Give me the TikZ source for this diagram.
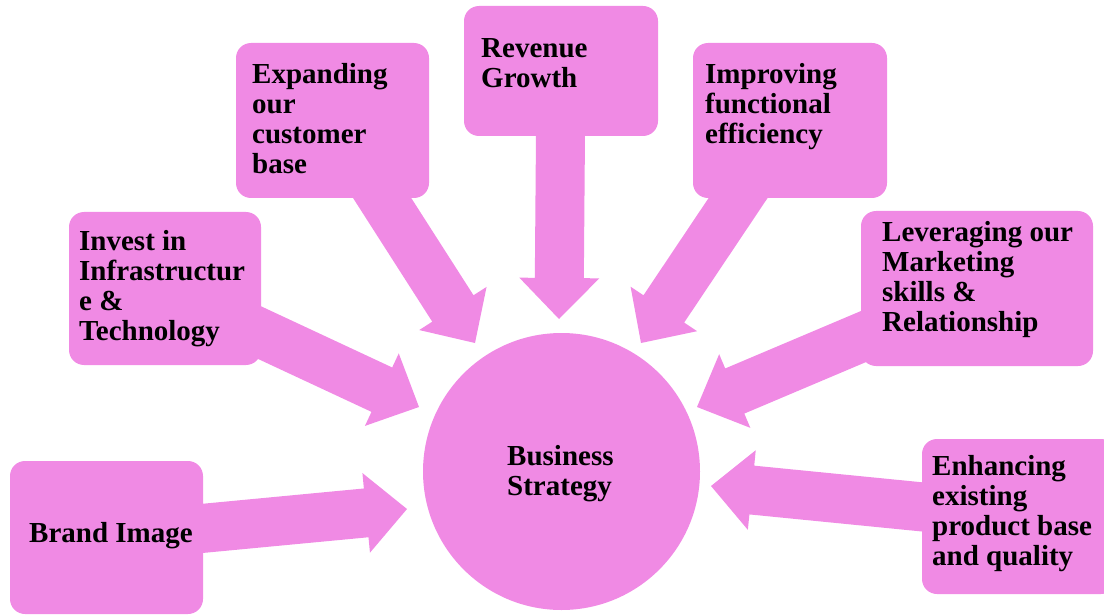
\documentclass[tikz,border=0pt]{standalone}
\usepackage{fontspec}
\setmainfont{Liberation Serif}
\usepackage{xcolor}
\usepackage{tikz}
\usetikzlibrary{positioning,calc,arrows.meta}
\definecolor{boxpink}{RGB}{240,138,228}

% block arrow from a box to a tip point
\newcommand{\blockarrow}[2]{%
  \coordinate (hb) at ($(#2)!41pt!(#1.center)$);
  \fill[boxpink] ($(#1.center)!24.5pt!90:(#2)$) -- ($(hb)!24.5pt!-90:(#1.center)$)
    -- ($(hb)!40pt!-90:(#1.center)$) -- (#2) -- ($(hb)!40pt!90:(#1.center)$)
    -- ($(hb)!24.5pt!90:(#1.center)$) -- ($(#1.center)!24.5pt!-90:(#2)$) -- cycle;
}

\begin{document}
\begin{tikzpicture}[x=1pt,y=-1pt,
    pinkbox/.style={fill=boxpink, rounded corners=15pt, inner sep=0pt},
    boxtext/.style={font=\fontsize{29}{30}\selectfont\bfseries, align=left, inner sep=0pt, anchor=north west}]
    \useasboundingbox (0,0) rectangle (1104,615);

    % Boxes round the circle
    \node[pinkbox, minimum width=194pt, minimum height=130pt] (revenue) at (561,71) {};
    \node[pinkbox, minimum width=193pt, minimum height=155pt] (expanding) at (332.5,120.5) {};
    \node[pinkbox, minimum width=194pt, minimum height=155pt] (improving) at (790,120.5) {};
    \node[pinkbox, minimum width=192pt, minimum height=153pt] (invest) at (165,288.5) {};
    \node[pinkbox, minimum width=232pt, minimum height=155pt] (leveraging) at (977,288.5) {};
    \node[pinkbox, minimum width=193pt, minimum height=153pt] (brand) at (106.5,537.5) {};
    \node[pinkbox, minimum width=194pt, minimum height=155pt] (enhancing) at (1019,516.5) {};

    % Centre circle
    \node[circle, fill=boxpink, inner sep=0pt, minimum size=277pt] (strategy) at (561.5,471.5) {};

    % Arrow tips
    \coordinate (revenuetip) at (559,319);
    \coordinate (expandingtip) at (475,343);
    \coordinate (improvingtip) at (641,343);
    \coordinate (investtip) at (419,407);
    \coordinate (leveragingtip) at (697,407);
    \coordinate (brandtip) at (407,509);
    \coordinate (enhancingtip) at (711,486);

    % Arrows
    \foreach \boxname in {revenue,expanding,improving,invest,leveraging,brand,enhancing}
        \blockarrow{\boxname}{\boxname tip};

    % Texts
    \node[boxtext] (revenuetxt) at (481,38) {Revenue\\Growth};
    \node[boxtext] (expandingtxt) at (252,63) {Expanding\\our\\customer\\base};
    \node[boxtext] (improvingtxt) at (705,63) {Improving\\functional\\efficiency};
    \node[boxtext] (investtxt) at (79,230) {Invest in\\Infrastructur\\e \&\\Technology};
    \node[boxtext] (leveragingtxt) at (882,221) {Leveraging our\\Marketing\\skills \&\\Relationship};
    \node[boxtext] (brandtxt) at (29,522) {Brand Image};
    \node[boxtext] (enhancingtxt) at (932,455) {Enhancing\\existing\\product base\\and quality};
    \node[boxtext] (strategytxt) at (507,445) {Business\\Strategy};
\end{tikzpicture}
\end{document}
